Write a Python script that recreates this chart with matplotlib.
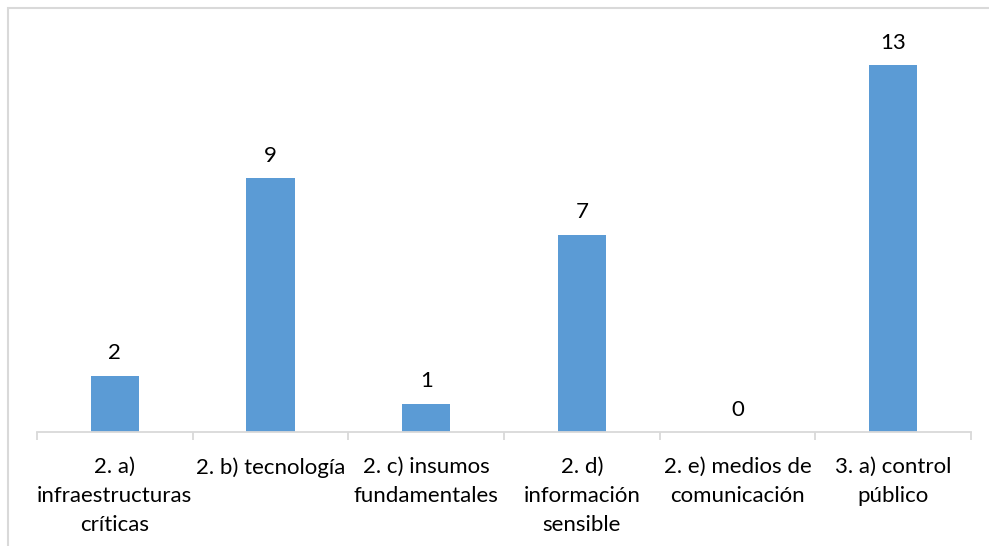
import matplotlib.pyplot as plt
from matplotlib.patches import Rectangle

# chart data
categories = [
    "2. a)\ninfraestructuras\ncríticas",
    "2. b) tecnología",
    "2. c) insumos\nfundamentales",
    "2. d)\ninformación\nsensible",
    "2. e) medios de\ncomunicación",
    "3. a) control\npúblico",
]
values = [2, 9, 1, 7, 0, 13]

plt.rcParams["font.family"] = ["Lato", "DejaVu Sans"]

W, H = 989, 546
fig = plt.figure(figsize=(W / 100, H / 100), dpi=100)

# chart area border (cropped at right and bottom)
fig.add_artist(Rectangle((8 / W, -0.1), 1.2, 1 - 8 / H + 0.1, transform=fig.transFigure,
                         fill=False, edgecolor="#D9D9D9", linewidth=1.5))

ax = fig.add_axes([37 / W, 114 / H, (971 - 37) / W, (432 - 37) / H])
x = list(range(len(categories)))
bars = ax.bar(x, values, width=0.31, color="#5B9BD5")

for xi, v in zip(x, values):
    ax.annotate(str(v), (xi, v), xytext=(0, 9), textcoords="offset points",
                ha="center", va="bottom", fontsize=16, color="#000000")

ax.set_xlim(-0.5, len(categories) - 0.5)
ax.set_ylim(0, 14)
for s in ["top", "right", "left"]:
    ax.spines[s].set_visible(False)
ax.spines["bottom"].set_color("#D9D9D9")
ax.spines["bottom"].set_linewidth(1.3)
ax.set_yticks([])

# tick marks at category boundaries, labels at centers
ax.set_xticks([i - 0.5 for i in range(len(categories) + 1)], minor=False)
ax.set_xticklabels([])
ax.tick_params(axis="x", which="major", length=6, color="#D9D9D9", width=1.3)
ax.set_xticks(x, minor=True)
ax.set_xticklabels(categories, minor=True, fontsize=16, color="#000000", linespacing=1.55)
ax.tick_params(axis="x", which="minor", length=0, pad=18)
for lbl in ax.get_xticklabels(minor=True):
    lbl.set_verticalalignment("top")
    lbl.set_horizontalalignment("center")

fig.savefig("out.png", dpi=100)
